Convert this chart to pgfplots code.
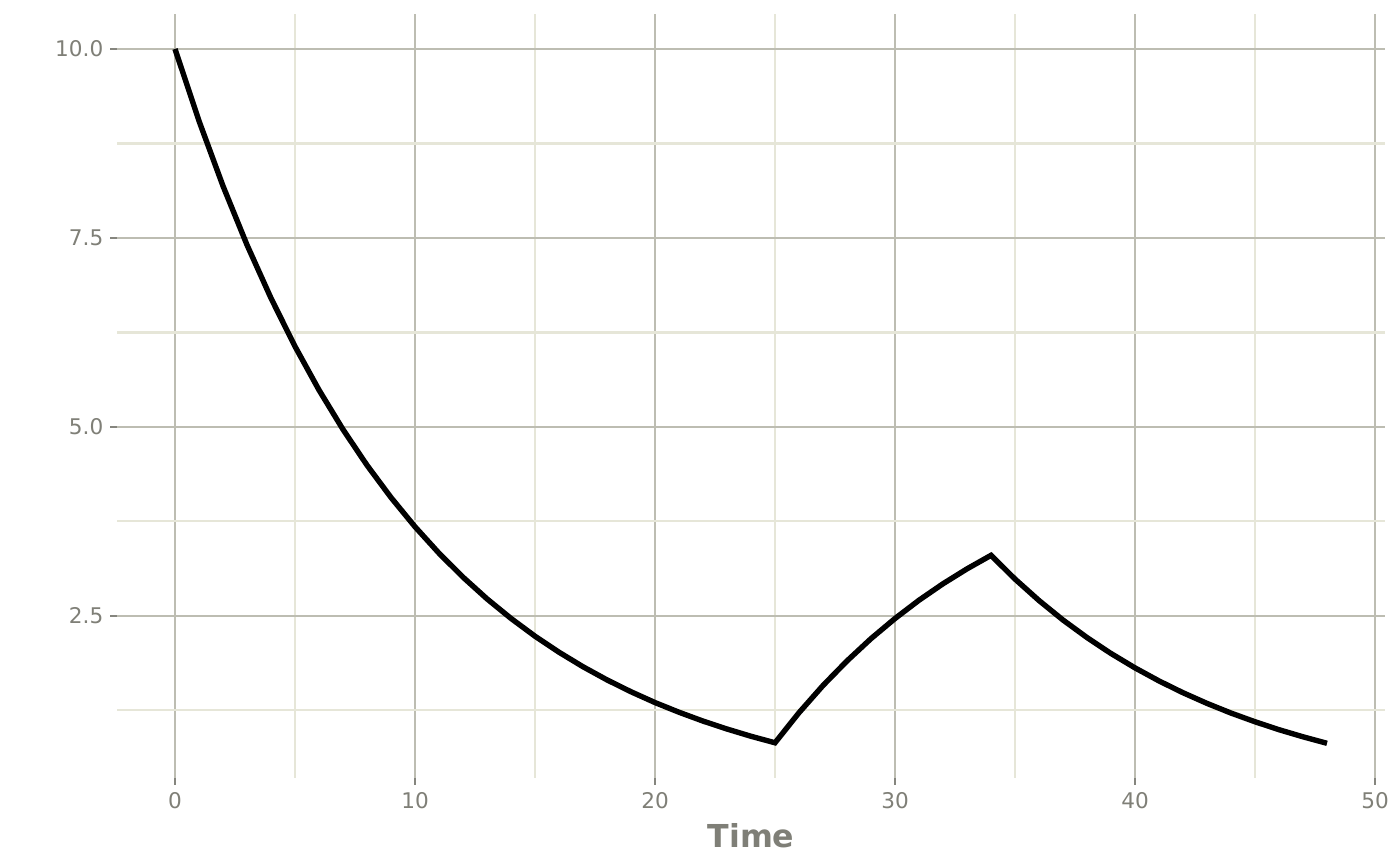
\documentclass[border=0pt]{standalone}
\usepackage{fontspec}
\setmainfont{DejaVu Sans}
\usepackage{pgfplots}
\pgfplotsset{compat=1.18}
\definecolor{gridmaj}{HTML}{BDBDB2}
\definecolor{gridmin}{HTML}{E6E6D8}
\definecolor{txtgrey}{HTML}{7F7F77}
\definecolor{tickgrey}{HTML}{85857E}

\pgfplotstableread{
t y
0 10
1 9.048
2 8.187
3 7.408
4 6.703
5 6.065
6 5.488
7 4.966
8 4.493
9 4.066
10 3.679
11 3.329
12 3.012
13 2.725
14 2.466
15 2.231
16 2.019
17 1.827
18 1.653
19 1.496
20 1.353
21 1.225
22 1.108
23 1.003
24 0.907
25 0.821
26 1.219
27 1.579
28 1.904
29 2.199
30 2.465
31 2.707
32 2.925
33 3.122
34 3.301
35 2.987
36 2.703
37 2.445
38 2.213
39 2.002
40 1.812
41 1.639
42 1.483
43 1.342
44 1.214
45 1.099
46 0.994
47 0.900
48 0.814
}\conc

\begin{document}
\begin{tikzpicture}
\begin{axis}[
    scale only axis,
    width=633.6pt, height=381.85pt,
    xmin=-2.4, xmax=50.4,
    ymin=0.355, ymax=10.459,
    axis x line*=bottom, axis y line*=left,
    axis line style={draw=none},
    xtick={0,10,20,30,40,50},
    ytick={2.5,5,7.5,10},
    minor xtick={5,15,25,35,45},
    minor ytick={1.25,3.75,6.25,8.75},
    grid=both,
    major grid style={draw=gridmaj, line width=1.1pt},
    minor grid style={draw=gridmin, line width=1.1pt},
    tick align=outside,
    major tick length=3.5pt,
    minor tick length=0pt,
    tick style={draw=tickgrey, line width=1.1pt},
    ticklabel style={font=\fontsize{10.8}{13}\selectfont, text=txtgrey},
    /pgf/number format/assume math mode=true,
    yticklabel style={/pgf/number format/fixed, /pgf/number format/fixed zerofill, /pgf/number format/precision=1},
    xticklabel style={/pgf/number format/fixed},
    xlabel={Time},
    xlabel style={at={(axis description cs:0.5,0)}, anchor=base, yshift=-34.5pt, inner sep=0pt,
        font=\fontsize{15.8}{19}\selectfont\bfseries, text=txtgrey},
    clip=false,
]
\addplot[black, line width=2.7pt, line join=miter] table[x=t, y=y] {\conc};
\end{axis}
\path ([xshift=-58.7pt, yshift=-43.5pt]current axis.south west) rectangle ([xshift=7.7pt, yshift=7.15pt]current axis.north east);
\end{tikzpicture}
\end{document}
